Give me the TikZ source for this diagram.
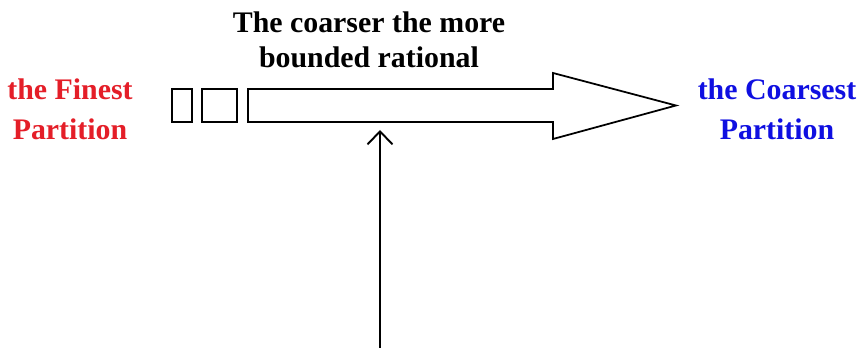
\documentclass[tikz,border=0pt]{standalone}
\usepackage{fontspec}
\setmainfont{Liberation Serif}
\usepackage{tikz}
\usetikzlibrary{calc,arrows.meta}
\definecolor{finered}{RGB}{228,30,40}
\definecolor{coarseblue}{RGB}{15,15,225}

\begin{document}
\begin{tikzpicture}[>=Latex,x=0.02cm,y=0.02cm,
    lbl/.style={font=\fontsize{17}{22.6}\selectfont\bfseries,align=center,inner sep=0pt},
    box/.style={draw,line width=1pt,line join=miter}]
  \useasboundingbox (0,0) rectangle (863,348);
  \node[lbl,text=finered] (finest) at (70,239) {the Finest\\Partition};
  \node[lbl,text=coarseblue] (coarsest) at (777,239) {the Coarsest\\Partition};
  \node[lbl,font=\fontsize{17}{19.9}\selectfont\bfseries] (claim) at (369,308) {The coarser the more\\bounded rational};
  \draw[box] (172,226) rectangle (192,259);
  \draw[box] (202,226) rectangle (237,259);
  \coordinate (shaft) at (248,226);
  \draw[box] (shaft) -- (553,226) -- (553,209) -- (676,242.5) -- (553,275)
    -- (553,259) -- (248,259) -- cycle;
  \coordinate (push) at (380,0);
  \draw[line width=1.1pt,-{Straight Barb[length=0.26cm,width=0.5cm]},shorten >=0.16cm]
    (push) -- (push |- shaft);
\end{tikzpicture}
\end{document}
